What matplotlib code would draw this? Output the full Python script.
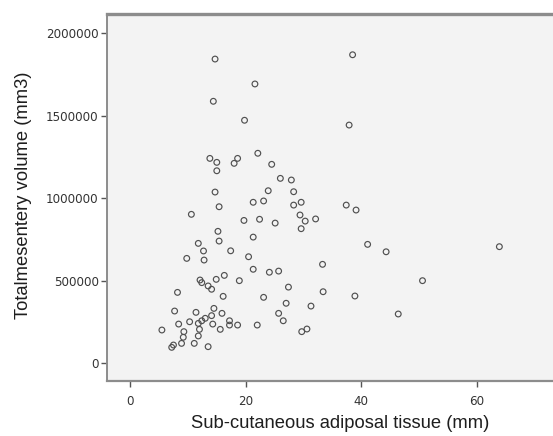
import matplotlib
matplotlib.use("Agg")
import matplotlib.pyplot as plt

# Sub-cutaneous adiposal tissue thickness (mm)
sat_mm = [
    14.7, 38.5, 21.6, 14.4, 19.8, 37.9, 22.1, 13.8, 15.0, 15.0,
    18.0, 18.6, 24.5, 26.0, 27.9, 23.9, 28.3, 14.7, 15.4, 10.6,
    21.3, 23.1, 28.3, 29.6, 19.7, 22.4, 25.1, 29.4, 30.3, 32.1,
    29.6, 15.2, 15.4, 21.3, 11.8, 12.7, 17.4, 9.8, 12.8, 20.5,
    21.3, 24.1, 25.7, 37.4, 39.1, 41.1, 44.3, 33.3, 63.9, 50.6,
    46.4, 12.1, 12.4, 14.9, 16.3, 18.9, 13.5, 14.1, 8.2, 16.1,
    23.1, 27.4, 33.4, 38.9, 27.0, 31.3, 25.7, 26.5, 29.7, 30.6,
    7.7, 11.4, 14.5, 15.9, 13.0, 12.4, 14.1, 17.2, 17.2, 18.6,
    22.0, 8.4, 10.3, 11.8, 14.3, 15.6, 5.5, 9.3, 12.0, 11.8,
    9.2, 11.1, 8.9, 7.5, 7.2, 13.5,
]

# Total mesentery volume (mm3)
mesentery_vol = [
    1844000, 1870000, 1693000, 1588000, 1473000, 1444000, 1273000, 1242000, 1218000, 1167000,
    1212000, 1242000, 1206000, 1121000, 1111000, 1046000, 1040000, 1038000, 949000, 903000,
    976000, 984000, 959000, 976000, 866000, 873000, 850000, 899000, 862000, 875000,
    816000, 800000, 741000, 765000, 727000, 681000, 682000, 636000, 626000, 646000,
    570000, 552000, 559000, 959000, 929000, 721000, 676000, 600000, 707000, 501000,
    299000, 505000, 489000, 509000, 533000, 501000, 469000, 449000, 430000, 406000,
    400000, 462000, 434000, 408000, 364000, 347000, 303000, 258000, 192000, 208000,
    317000, 309000, 333000, 303000, 273000, 258000, 289000, 258000, 232000, 232000,
    232000, 238000, 252000, 242000, 238000, 206000, 202000, 192000, 206000, 166000,
    158000, 121000, 121000, 111000, 97000, 101000,
]

x_ticks = [0, 20, 40, 60]
x_tick_labels = ["0", "20", "40", "60"]
y_ticks = [0, 500000, 1000000, 1500000, 2000000]
y_tick_labels = ["0", "500000", "1000000", "1500000", "2000000"]

W, H = 553, 436
fig = plt.figure(figsize=(W / 100, H / 100), dpi=100)
fig.patch.set_facecolor("white")

left, right, top, bottom = 107, 556, 14, 381
ax = fig.add_axes([left / W, 1 - bottom / H, (right - left) / W, (bottom - top) / H])
ax.set_facecolor("#f3f3f3")

ax.scatter(sat_mm, mesentery_vol, s=17, facecolors="none",
           edgecolors="#505050", linewidths=0.85, zorder=3)

ax.set_xlim(-4.0, 73.7)
ax.set_ylim(-107000, 2117000)

ax.set_xticks(x_ticks)
ax.set_xticklabels(x_tick_labels)
ax.set_yticks(y_ticks)
ax.set_yticklabels(y_tick_labels)

for s in ("left", "bottom", "top"):
    ax.spines[s].set_color("#8c8c8c")
ax.spines["left"].set_linewidth(1.4)
ax.spines["bottom"].set_linewidth(1.6)
ax.spines["top"].set_linewidth(2.4)
ax.spines["right"].set_visible(False)

ax.tick_params(axis="both", direction="out", length=4, width=1.0,
               color="#555555", labelcolor="#333333", labelsize=8.6)
ax.tick_params(axis="x", pad=6)
ax.tick_params(axis="y", pad=2)
for lab in ax.get_xticklabels() + ax.get_yticklabels():
    lab.set_family("DejaVu Sans")

label_font = dict(family="Liberation Sans", size=13.2, color="#1e1e1e")
ax.set_xlabel("Sub-cutaneous adiposal tissue (mm)", **label_font)
ax.set_ylabel("Totalmesentery volume (mm3)", **label_font)
ax.xaxis.set_label_coords(0.52, -0.093)
ax.yaxis.set_label_coords(-0.167, 0.505)

fig.savefig("out.png", dpi=100)
